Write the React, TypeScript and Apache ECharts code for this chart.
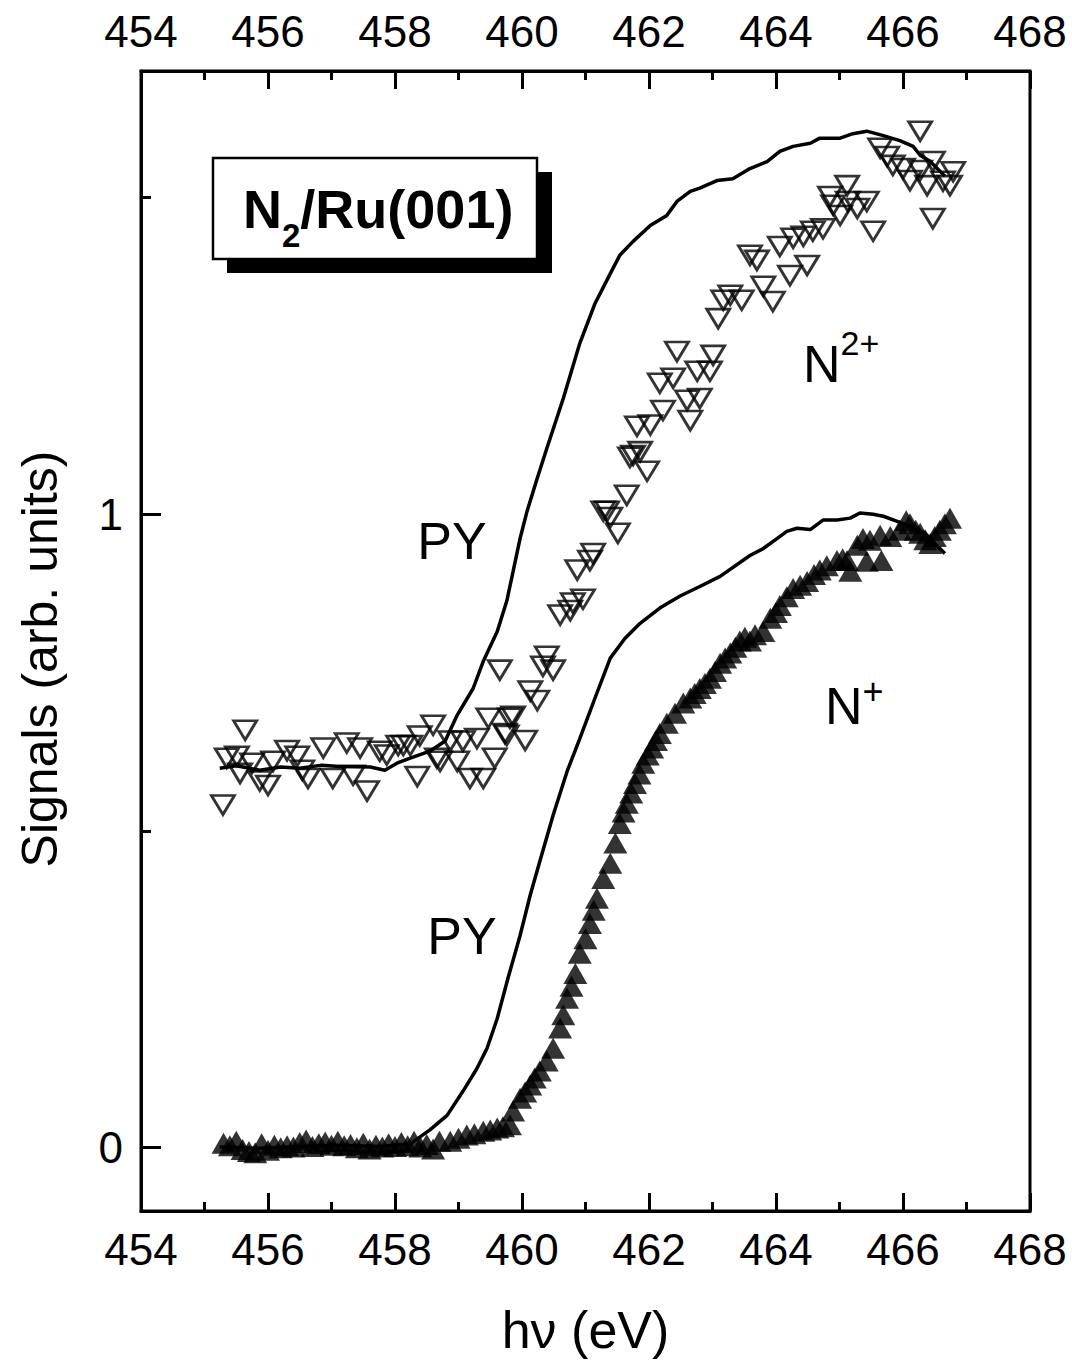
import { useEffect, useRef } from "react";
import * as echarts from "echarts";

// Tick values
const xTickLabels = [454, 456, 458, 460, 462, 464, 466, 468];
const yLabelValues = [0, 1];
const yMinorValues = [0.5, 1.5];

// PY curve drawn with the N2+ data (offset baseline)
const pyUpper: [number, number][] = [
  [455.24, 0.599], [455.5, 0.603], [455.87, 0.596], [456.2, 0.601], [456.5, 0.599], [456.85, 0.604],
  [457.13, 0.602], [457.61, 0.601], [457.84, 0.596], [458.05, 0.608], [458.24, 0.615], [458.55, 0.626],
  [458.79, 0.642], [458.98, 0.683], [459.23, 0.725], [459.39, 0.768], [459.61, 0.815], [459.76, 0.863],
  [459.86, 0.91], [459.97, 0.962], [460.08, 1.005], [460.24, 1.057], [460.39, 1.104], [460.65, 1.183],
  [460.91, 1.27], [461.15, 1.333], [461.39, 1.38], [461.54, 1.409], [461.75, 1.431], [462.02, 1.456],
  [462.28, 1.472], [462.44, 1.494], [462.65, 1.51], [462.8, 1.515], [463.07, 1.527], [463.32, 1.53],
  [463.59, 1.546], [463.86, 1.557], [464.06, 1.573], [464.27, 1.581], [464.54, 1.586], [464.69, 1.594],
  [465.01, 1.594], [465.21, 1.601], [465.43, 1.605], [465.69, 1.598], [465.95, 1.59], [466.16, 1.581],
  [466.27, 1.567], [466.43, 1.557], [466.66, 1.534],
];

// PY curve drawn with the N+ data
const pyLower: [number, number][] = [
  [455.24, 0.001], [455.87, -0.001], [456.5, 0.002], [457.13, 0.004], [457.76, 0.002], [458.24, 0.006],
  [458.55, 0.028], [458.82, 0.051], [459.07, 0.089], [459.29, 0.125], [459.45, 0.157], [459.61, 0.204],
  [459.78, 0.268], [459.97, 0.335], [460.13, 0.399], [460.28, 0.452], [460.49, 0.525], [460.71, 0.594],
  [460.91, 0.646], [461.15, 0.71], [461.39, 0.773], [461.62, 0.804], [461.86, 0.828], [462.17, 0.852],
  [462.49, 0.871], [462.8, 0.886], [463.12, 0.902], [463.59, 0.935], [463.8, 0.946], [464.02, 0.962],
  [464.17, 0.973], [464.33, 0.978], [464.54, 0.976], [464.74, 0.991], [464.96, 0.991], [465.17, 0.994],
  [465.32, 1.002], [465.53, 1.0], [465.69, 0.997], [465.91, 0.989], [466.11, 0.981], [466.35, 0.97],
  [466.5, 0.954], [466.66, 0.938],
];

// N2+ ion signal (open down triangles)
const n2Plus: [number, number][] = [
  [455.29, 0.541], [455.35, 0.615], [455.51, 0.618], [455.56, 0.591], [455.64, 0.659], [455.75, 0.607],
  [455.87, 0.579], [456.0, 0.572], [456.08, 0.61], [456.3, 0.627], [456.46, 0.618], [456.54, 0.596],
  [456.63, 0.583], [456.87, 0.631], [457.02, 0.583], [457.24, 0.639], [457.34, 0.588], [457.45, 0.631],
  [457.56, 0.563], [457.76, 0.626], [457.87, 0.62], [458.05, 0.635], [458.13, 0.635], [458.24, 0.635],
  [458.35, 0.586], [458.39, 0.65], [458.6, 0.667], [458.66, 0.615], [458.71, 0.61], [458.87, 0.642],
  [458.98, 0.61], [459.07, 0.642], [459.18, 0.583], [459.29, 0.646], [459.39, 0.583], [459.47, 0.678],
  [459.57, 0.615], [459.65, 0.754], [459.73, 0.654], [459.76, 0.651], [459.81, 0.678], [459.86, 0.681],
  [460.05, 0.643], [460.13, 0.721], [460.24, 0.706], [460.33, 0.76], [460.39, 0.776], [460.49, 0.754],
  [460.6, 0.841], [460.76, 0.848], [460.8, 0.86], [460.87, 0.912], [460.96, 0.866], [461.07, 0.927],
  [461.12, 0.938], [461.28, 1.005], [461.34, 1.005], [461.39, 0.995], [461.51, 0.97], [461.65, 1.03],
  [461.7, 1.09], [461.75, 1.093], [461.81, 1.139], [461.86, 1.099], [461.97, 1.068], [462.02, 1.141],
  [462.17, 1.207], [462.22, 1.164], [462.38, 1.215], [462.44, 1.257], [462.6, 1.18], [462.65, 1.148],
  [462.76, 1.226], [462.8, 1.183], [462.96, 1.226], [463.01, 1.251], [463.09, 1.309], [463.17, 1.338],
  [463.28, 1.346], [463.46, 1.338], [463.59, 1.409], [463.7, 1.401], [463.8, 1.36], [463.95, 1.336],
  [464.06, 1.423], [464.22, 1.377], [464.27, 1.436], [464.43, 1.439], [464.49, 1.393], [464.58, 1.447],
  [464.74, 1.451], [464.85, 1.502], [464.9, 1.488], [465.01, 1.472], [465.12, 1.519], [465.13, 1.494],
  [465.28, 1.483], [465.43, 1.494], [465.53, 1.447], [465.64, 1.578], [465.75, 1.565], [465.84, 1.551],
  [466.0, 1.546], [466.11, 1.527], [466.27, 1.605], [466.27, 1.543], [466.38, 1.519], [466.47, 1.557],
  [466.47, 1.467], [466.63, 1.526], [466.74, 1.519], [466.79, 1.541],
];

// N+ ion signal (filled up triangles)
const nPlus: [number, number][] = [
  [455.3, 0.007], [455.4, 0.003], [455.5, 0.01], [455.6, -0.003], [455.7, -0.006], [455.8, -0.008],
  [455.9, 0.006], [456.0, -0.004], [456.1, 0.004], [456.2, 0.0], [456.3, 0.003], [456.4, 0.001],
  [456.5, 0.008], [456.6, 0.012], [456.7, 0.002], [456.8, 0.006], [456.9, 0.009], [457.0, 0.004],
  [457.1, 0.01], [457.2, 0.003], [457.3, 0.005], [457.4, 0.0], [457.5, 0.007], [457.6, -0.002],
  [457.7, 0.004], [457.8, 0.001], [457.9, 0.006], [458.0, 0.002], [458.1, 0.008], [458.2, 0.003],
  [458.3, 0.01], [458.4, 0.001], [458.5, 0.005], [458.6, -0.002], [458.7, 0.01], [458.87, 0.01],
  [459.0, 0.015], [459.13, 0.02], [459.25, 0.022], [459.39, 0.026], [459.5, 0.028], [459.61, 0.031],
  [459.7, 0.033], [459.81, 0.036], [459.86, 0.058], [459.97, 0.078], [460.05, 0.088], [460.13, 0.099],
  [460.2, 0.11], [460.28, 0.121], [460.39, 0.137], [460.49, 0.157], [460.6, 0.189], [460.65, 0.21],
  [460.71, 0.236], [460.78, 0.255], [460.84, 0.275], [460.91, 0.307], [461.0, 0.33], [461.07, 0.354],
  [461.13, 0.375], [461.18, 0.394], [461.28, 0.425], [461.39, 0.449], [461.47, 0.481], [461.54, 0.512],
  [461.6, 0.53], [461.65, 0.544], [461.72, 0.56], [461.78, 0.575], [461.85, 0.59], [461.91, 0.607],
  [461.98, 0.62], [462.05, 0.631], [462.11, 0.643], [462.17, 0.654], [462.28, 0.67], [462.41, 0.686],
  [462.54, 0.702], [462.65, 0.71], [462.72, 0.717], [462.8, 0.725], [462.88, 0.733], [462.96, 0.741],
  [463.04, 0.752], [463.12, 0.765], [463.2, 0.773], [463.28, 0.781], [463.36, 0.79], [463.43, 0.8],
  [463.51, 0.806], [463.59, 0.8], [463.67, 0.81], [463.8, 0.815], [463.91, 0.836], [464.0, 0.845],
  [464.06, 0.856], [464.17, 0.87], [464.27, 0.883], [464.38, 0.888], [464.49, 0.894], [464.6, 0.905],
  [464.69, 0.912], [464.8, 0.919], [464.96, 0.927], [465.05, 0.93], [465.12, 0.927], [465.17, 0.91],
  [465.28, 0.951], [465.37, 0.962], [465.43, 0.926], [465.48, 0.959], [465.64, 0.967], [465.66, 0.927],
  [465.8, 0.965], [465.95, 0.975], [466.05, 0.99], [466.11, 0.985], [466.2, 0.975], [466.27, 0.97],
  [466.35, 0.96], [466.43, 0.954], [466.5, 0.965], [466.58, 0.975], [466.66, 0.985], [466.74, 0.994],
];

const FONT = '"Liberation Sans", Arial, Helvetica, sans-serif';

function label(x: number, y: number, text: string, size: number, align = "center") {
  return {
    type: "text",
    x,
    y,
    z: 12,
    style: {
      text,
      font: `${size}px ${FONT}`,
      fill: "#000",
      align,
      textAlign: align,
      verticalAlign: "middle",
      textVerticalAlign: "middle",
    },
  };
}

export default function App() {
  const ref = useRef<HTMLDivElement>(null);

  useEffect(() => {
    if (!ref.current) return;
    const chart = echarts.init(ref.current, undefined, { renderer: "svg" });
    const axisLineStyle = { color: "#000", width: 3 };
    const xAxisCommon = {
      type: "value",
      min: 454,
      max: 468,
      interval: 2,
      axisLine: { show: true, onZero: false, lineStyle: axisLineStyle },
      axisTick: { show: true, inside: true, length: 18, lineStyle: axisLineStyle },
      minorTick: { show: true, splitNumber: 2, length: 9, lineStyle: axisLineStyle },
      splitLine: { show: false },
      minorSplitLine: { show: false },
    };
    const option: any = {
      animation: false,
      backgroundColor: "#fff",
      textStyle: { fontFamily: FONT, color: "#000" },
      grid: {
        left: 141,
        right: 42,
        top: 71,
        bottom: 148,
        show: true,
        borderColor: "#000",
        borderWidth: 3,
        backgroundColor: "rgba(0,0,0,0)",
      },
      xAxis: [
        {
          ...xAxisCommon,
          position: "bottom",
          axisLabel: {
            customValues: xTickLabels,
            fontSize: 44,
            color: "#000",
            fontFamily: FONT,
            margin: 16,
          },
          name: "hν (eV)",
          nameLocation: "middle",
          nameGap: 93,
          nameTextStyle: { fontSize: 52, color: "#000", fontFamily: FONT },
        },
        {
          ...xAxisCommon,
          position: "top",
          axisLabel: {
            customValues: xTickLabels,
            fontSize: 44,
            color: "#000",
            fontFamily: FONT,
            margin: 18,
          },
        },
      ],
      yAxis: [
        {
          type: "value",
          position: "left",
          min: -0.1,
          max: 1.7,
          axisLine: { show: true, onZero: false, lineStyle: axisLineStyle },
          axisTick: {
            show: true,
            inside: true,
            length: 20,
            customValues: yLabelValues,
            lineStyle: axisLineStyle,
          },
          axisLabel: {
            customValues: yLabelValues,
            fontSize: 44,
            color: "#000",
            fontFamily: FONT,
            margin: 18,
          },
          splitLine: { show: false },
          name: "Signals (arb. units)",
          nameLocation: "middle",
          nameRotate: 90,
          nameGap: 76,
          nameTextStyle: { fontSize: 50, color: "#000", fontFamily: FONT, padding: [0, 36, 0, 0] },
        },
        {
          type: "value",
          position: "left",
          min: -0.1,
          max: 1.7,
          axisLine: { show: false },
          axisTick: {
            show: true,
            inside: true,
            length: 10,
            customValues: yMinorValues,
            lineStyle: axisLineStyle,
          },
          axisLabel: { show: false },
          splitLine: { show: false },
        },
      ],
      series: [
        {
          name: "N2+",
          type: "scatter",
          data: n2Plus,
          symbol: "triangle",
          symbolRotate: 180,
          symbolSize: [23, 19],
          itemStyle: { color: "rgba(255,255,255,0)", borderColor: "#000", borderWidth: 2.8 },
          z: 2,
        },
        {
          name: "N+",
          type: "scatter",
          data: nPlus,
          symbol: "triangle",
          symbolSize: [24, 21],
          itemStyle: { color: "#000" },
          z: 2,
        },
        {
          name: "PY upper",
          type: "line",
          data: pyUpper,
          showSymbol: false,
          symbol: "none",
          lineStyle: { color: "#000", width: 3.5 },
          z: 3,
        },
        {
          name: "PY lower",
          type: "line",
          data: pyLower,
          showSymbol: false,
          symbol: "none",
          lineStyle: { color: "#000", width: 3.5 },
          z: 3,
        },
      ],
      graphic: [
        {
          type: "rect",
          shape: { x: 227, y: 172, width: 325, height: 101 },
          style: { fill: "#000" },
          z: 10,
        },
        {
          type: "rect",
          shape: { x: 213, y: 158, width: 324, height: 101 },
          style: { fill: "#fff", stroke: "#000", lineWidth: 2.5 },
          z: 11,
        },
        {
          type: "text",
          x: 243,
          y: 209,
          z: 12,
          style: {
            text: "{n|N}{s|2}{n|/Ru(001)}",
            align: "left",
            textAlign: "left",
            verticalAlign: "middle",
            textVerticalAlign: "middle",
            fill: "#000",
            rich: {
              n: { font: `bold 54px ${FONT}`, fill: "#000", lineHeight: 54 },
              s: { font: `bold 33px ${FONT}`, fill: "#000", lineHeight: 33, padding: [52, 0, 0, 0] },
            },
          },
        },
        label(452, 541, "PY", 52),
        label(462, 936, "PY", 52),
        {
          type: "text",
          x: 803,
          y: 364,
          z: 12,
          style: {
            text: "{n|N}{s|2+}",
            align: "left",
            textAlign: "left",
            verticalAlign: "middle",
            textVerticalAlign: "middle",
            fill: "#000",
            rich: {
              n: { font: `52px ${FONT}`, fill: "#000", lineHeight: 52 },
              s: { font: `34px ${FONT}`, fill: "#000", lineHeight: 34, padding: [0, 0, 42, 0] },
            },
          },
        },
        {
          type: "text",
          x: 825,
          y: 706,
          z: 12,
          style: {
            text: "{n|N}{s|+}",
            align: "left",
            textAlign: "left",
            verticalAlign: "middle",
            textVerticalAlign: "middle",
            fill: "#000",
            rich: {
              n: { font: `52px ${FONT}`, fill: "#000", lineHeight: 52 },
              s: { font: `36px ${FONT}`, fill: "#000", lineHeight: 36, padding: [0, 0, 30, 0] },
            },
          },
        },
      ],
    };
    chart.setOption(option);
    return () => {
      chart.dispose();
    };
  }, []);

  return (
    <div
      ref={ref}
      style={{ position: "fixed", left: 0, top: 0, width: 1072, height: 1361, background: "#fff" }}
    />
  );
}
